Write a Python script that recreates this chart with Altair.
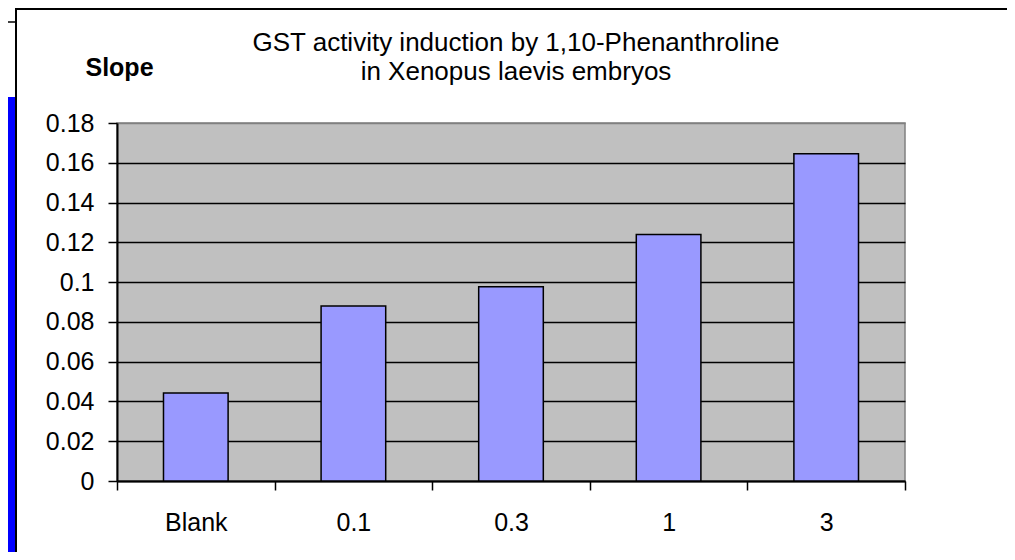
import altair as alt
import pandas as pd

categories = ["Blank", "0.1", "0.3", "1", "3"]
slopes = [0.0442, 0.088, 0.0977, 0.124, 0.1645]
y_ticks = [0, 0.02, 0.04, 0.06, 0.08, 0.1, 0.12, 0.14, 0.16, 0.18]
title_text = "GST activity induction by 1,10-Phenanthroline\nin Xenopus laevis embryos"

df = pd.DataFrame({"dose": categories, "slope": slopes})
one = pd.DataFrame({"k": [0]})

FONT = "Liberation Sans"

bars = alt.Chart(df).mark_bar(
    color="#9999FF", stroke="black", strokeWidth=1.5,
    width=alt.RelativeBandSize(0.41),
).encode(
    x=alt.X("dose:N", sort=categories,
            scale=alt.Scale(paddingInner=0, paddingOuter=0),
            axis=alt.Axis(title=None, labelAngle=0, tickBand="extent",
                          tickSize=9, tickWidth=1.5, tickColor="black",
                          domainColor="black", domainWidth=2,
                          labelFont=FONT, labelFontSize=25, labelColor="black",
                          labelPadding=20, grid=False)),
    y=alt.Y("slope:Q", scale=alt.Scale(domain=[0, 0.18], nice=False),
            axis=alt.Axis(values=y_ticks, format=".2~f", title="Slope",
                          titleAngle=0, titleX=2, titleY=-48,
                          titleAlign="center", titleBaseline="alphabetic",
                          titleFont=FONT, titleFontSize=25, titleFontWeight="bold",
                          titleColor="black",
                          tickSize=9, tickWidth=1.5, tickColor="black",
                          domainColor="black", domainWidth=2,
                          labelFont=FONT, labelFontSize=25, labelColor="black",
                          labelPadding=14, grid=True, gridWidth=1.5,
                          gridColor=alt.condition("datum.value > 0.17",
                                                  alt.value("#808080"),
                                                  alt.value("black")))),
)

title = alt.Chart(one).mark_text(
    font=FONT, fontSize=26, color="black", align="center",
    baseline="alphabetic", lineBreak="\n", lineHeight=29,
).encode(x=alt.value(399), y=alt.value(-72), text=alt.value(title_text))

# slide frame decorations
blue_strip = alt.Chart(one).mark_rect(color="#0000FF").encode(
    x=alt.value(-109), x2=alt.value(-101), y=alt.value(-26), y2=alt.value(429))
frame_v = alt.Chart(one).mark_rule(color="black", strokeWidth=2).encode(
    x=alt.value(-101), y=alt.value(-115), y2=alt.value(429))
frame_h = alt.Chart(one).mark_rule(color="black", strokeWidth=2).encode(
    x=alt.value(-101), x2=alt.value(890), y=alt.value(-114))
frame_small = alt.Chart(one).mark_rule(color="black", strokeWidth=1.5).encode(
    x=alt.value(-109), x2=alt.value(-101), y=alt.value(-101))

chart = alt.layer(blue_strip, frame_v, frame_h, frame_small, bars, title).properties(
    width=788, height=358,
    padding={"left": 109, "top": 115, "right": 102, "bottom": 71},
    autosize=alt.AutoSizeParams(type="none"),
    background="white",
).configure_view(fill="#C0C0C0", stroke="#808080", strokeWidth=1.5)

chart.save("out.html", embed_options={"renderer": "svg", "actions": False})
